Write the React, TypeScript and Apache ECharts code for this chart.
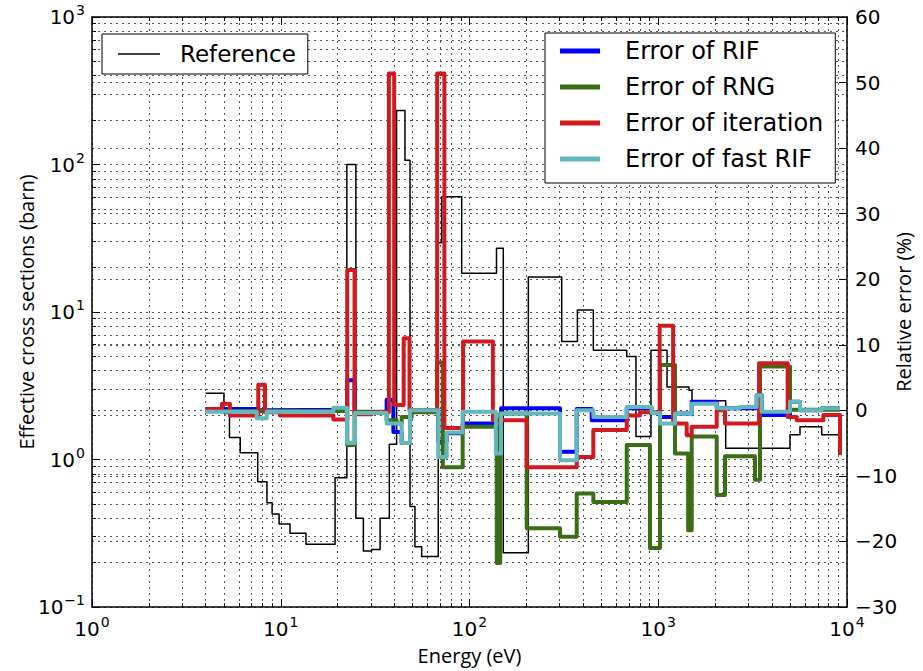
import React, { useEffect, useRef } from 'react';
import * as echarts from 'echarts';

// Energy group boundaries (eV) and values.
const refEnergy = [4.0, 5.0, 5.35, 6.1, 7.55, 8.45, 9.0, 9.8, 11.2, 13.6, 19.4, 22.4, 25.0, 27.4, 30.3, 33.6, 37.6, 41.1, 45.5, 48.4, 51.4, 55.8, 68.3, 71.2, 90.9, 139, 151, 205, 308, 373, 453, 681, 762, 915, 1113, 1455, 1510, 2277, 4989, 5636, 7345, 9180];
const refXS = [2.81, 2.05, 1.41, 1.11, 0.707, 0.509, 0.427, 0.366, 0.316, 0.266, 0.753, 100, 0.40, 0.24, 0.245, 0.40, 1.27, 232, 107, 0.48, 0.256, 0.22, 29.5, 60.5, 18.3, 27, 0.233, 17.3, 6.3, 10.3, 5.5, 5.0, 1.43, 5.5, 3.1, 2.95, 2.5, 1.19, 1.47, 1.67, 1.47, 1.47];

const rifEnergy = [4.0, 4.96, 7.46, 8.43, 22.5, 24.6, 36.4, 39.5, 43.7, 48.4, 68.3, 75.7, 92.0, 138, 147, 301.6, 369.8, 444, 681, 923, 1022, 1227, 1504, 2040, 3323, 3532, 4989, 5636, 7345, 9180];
const rifErr = [0.0, 0.2, 0.0, 0.1, 4.6, -0.3, 1.6, -3.3, -5.0, 0.0, -4.8, -3.5, -2.0, -3.5, 0.3, -6.3, 0.2, -1.5, 0.3, -0.4, -1.0, -0.5, 1.3, 0.3, 2.3, -0.7, 1.3, 0.0, 0.3, 0.3];

const rngEnergy = [4.0, 22.5, 24.6, 36.4, 41.1, 43.7, 49.4, 67.4, 72.2, 92.0, 139.5, 145.5, 201, 301.6, 369.8, 453, 681, 904, 1022, 1227, 1440, 1504, 2040, 2258, 3254, 3460, 4989, 9180];
const rngErr = [-0.1, -5.3, -0.2, -1.5, -2.0, -1.0, -0.3, 7.3, -8.7, -2.5, -23.3, -0.5, -18.0, -19.3, -12.7, -14.0, -5.3, -21.0, 6.9, -6.6, -18.3, -4.0, -12.9, -7.0, -10.6, 6.7, 0.1, 0.1];

const iterEnergy = [4.0, 4.88, 5.38, 7.6, 8.25, 9.9, 19.0, 22.5, 24.6, 30.3, 37.4, 39.9, 44.8, 48.1, 67.4, 73.6, 92.5, 133, 201, 370, 453, 681, 800, 1017, 1199, 1415, 1504, 2040, 2258, 3420, 4850, 5414, 7490, 9180];
const iterErr = [0.2, 1.0, -0.8, 3.9, -0.3, -0.8, -1.4, 21.4, -0.6, -0.3, 51.4, 0.8, 11.0, 0.0, 51.4, -2.7, 10.5, -1.5, -8.7, -7.1, -3.0, -0.8, -0.3, 12.9, -2.0, -3.8, -2.5, 0.0, -2.0, 7.2, -1.0, -1.5, -0.7, -6.8];

const fastEnergy = [4.0, 7.46, 8.43, 19.0, 22.4, 24.7, 36.4, 43.7, 48.4, 68.3, 75.7, 92.0, 138, 147, 301.6, 369.8, 453, 681, 923, 1022, 1227, 1504, 2040, 2711, 3323, 3532, 4989, 5636, 7345, 9180];
const fastErr = [-0.2, -1.2, -0.2, 0.4, -5.0, -0.4, -2.0, -5.0, 0.0, -7.1, -3.4, -0.2, -6.6, -0.5, -7.6, 0.0, -1.0, 0.5, -0.4, -2.0, -0.5, 1.0, 0.3, 0.5, 2.3, -0.2, 1.3, 0.0, 0.3, 0.3];

const errorNames = ['Error of RIF', 'Error of RNG', 'Error of iteration', 'Error of fast RIF'];
const errorColors = ['#0000ff', '#3a6e14', '#d11a1f', '#62b8bc'];

const pairs = (e: number[], v: number[]) => e.map((x, i) => [x, v[i]]);

const TICK_FONT = 'DejaVu Sans';
const TITLE_FONT = 'Open Sans';
const grid = { color: '#555', width: 1, type: [2, 4] as number[] };

const powLabel = (v: number) => {
  const e = Math.round(Math.log10(v));
  return `{b|10}{s|${e < 0 ? '\u2212' + -e : e}}`;
};
const rich = {
  b: { fontFamily: TICK_FONT, fontSize: 20, lineHeight: 20, color: '#000', verticalAlign: 'bottom' },
  s: { fontFamily: TICK_FONT, fontSize: 14, lineHeight: 14, color: '#000', verticalAlign: 'bottom', padding: [0, 0, 10, 1] },
};

export default function App() {
  const ref = useRef<HTMLDivElement>(null);
  useEffect(() => {
    const chart = echarts.init(ref.current!, null, { renderer: 'svg' });
    const stepLine = (name: string, e: number[], v: number[], color: string, width: number, yIdx: number) => ({
      name,
      type: 'line',
      xAxisIndex: 0,
      yAxisIndex: yIdx,
      data: pairs(e, v),
      step: 'end',
      symbol: 'none',
      silent: true,
      color,
      lineStyle: { color, width, join: 'round', cap: 'butt' },
    });
    const option: any = {
      animation: false,
      backgroundColor: '#fff',
      grid: { left: 92, right: 76, top: 17, bottom: 64, containLabel: false, outerBoundsMode: 'none' },
      xAxis: [
        {
          type: 'log', logBase: 10, min: 1, max: 10000, position: 'bottom', gridIndex: 0,
          name: 'Energy (eV)', nameLocation: 'middle', nameGap: 38, nameMoveOverlap: false,
          nameTextStyle: { fontFamily: TITLE_FONT, fontSize: 20, color: '#000' },
          axisLine: { show: true, onZero: false, lineStyle: { color: '#000', width: 1.5 } },
          axisTick: { show: true, inside: true, length: 8, lineStyle: { color: '#000' } },
          minorTick: { show: true, splitNumber: 9, length: 4, lineStyle: { color: '#000' } },
          splitLine: { show: true, lineStyle: grid },
          minorSplitLine: { show: true, lineStyle: grid },
          axisLabel: { formatter: powLabel, rich, margin: 12, showMinLabel: true, showMaxLabel: true },
        },
        {
          type: 'log', logBase: 10, min: 1, max: 10000, position: 'top', gridIndex: 0,
          axisLine: { show: true, onZero: false, lineStyle: { color: '#000', width: 1.5 } },
          axisTick: { show: true, inside: true, length: 8, lineStyle: { color: '#000' } },
          minorTick: { show: true, splitNumber: 9, length: 4, lineStyle: { color: '#000' } },
          splitLine: { show: false },
          axisLabel: { show: false },
        },
      ],
      yAxis: [
        {
          type: 'log', logBase: 10, min: 0.1, max: 1000, position: 'left',
          name: 'Effective cross sections (barn)', nameLocation: 'middle', nameRotate: 90, nameGap: 56,
          nameMoveOverlap: false,
          nameTextStyle: { fontFamily: TITLE_FONT, fontSize: 20, color: '#000' },
          axisLine: { show: true, onZero: false, lineStyle: { color: '#000', width: 1.5 } },
          axisTick: { show: true, inside: true, length: 8, lineStyle: { color: '#000' } },
          minorTick: { show: true, splitNumber: 9, length: 4, lineStyle: { color: '#000' } },
          splitLine: { show: true, lineStyle: grid },
          minorSplitLine: { show: true, lineStyle: grid },
          axisLabel: { formatter: powLabel, rich, margin: 7, showMinLabel: true, showMaxLabel: true },
        },
        {
          type: 'value', min: -30, max: 60, interval: 10, position: 'right',
          name: 'Relative error (%)', nameLocation: 'middle', nameRotate: 90, nameGap: 46,
          nameMoveOverlap: false,
          nameTextStyle: { fontFamily: TITLE_FONT, fontSize: 20, color: '#000' },
          axisLine: { show: true, onZero: false, lineStyle: { color: '#000', width: 1.5 } },
          axisTick: { show: true, inside: true, length: 8, lineStyle: { color: '#000' } },
          splitLine: { show: true, lineStyle: grid },
          axisLabel: {
            formatter: (v: number) => (v < 0 ? '\u2212' + -v : String(v)),
            fontFamily: TICK_FONT, fontSize: 20, lineHeight: 20, color: '#000', margin: 8,
          },
        },
      ],
      legend: [
        {
          data: [{ name: 'Reference', icon: 'rect' }],
          left: 102, top: 34, orient: 'vertical',
          itemWidth: 42, itemHeight: 1.5,
          padding: [6, 12, 6, 16],
          borderColor: '#000', borderWidth: 1, backgroundColor: '#fff', borderRadius: 0,
          textStyle: { fontFamily: TICK_FONT, fontSize: 23, color: '#000', lineHeight: 28, padding: [0, 0, 0, 15] },
          selectedMode: false,
        },
        {
          data: errorNames.map((n) => ({ name: n, icon: 'rect' })),
          left: 545, top: 33, orient: 'vertical',
          itemWidth: 40, itemHeight: 5, itemGap: 10,
          padding: [5, 12, 11, 15],
          borderColor: '#000', borderWidth: 1, backgroundColor: '#fff', borderRadius: 0,
          textStyle: { fontFamily: TICK_FONT, fontSize: 24, color: '#000', lineHeight: 26, padding: [0, 0, 0, 20] },
          selectedMode: false,
        },
      ],
      series: [
        stepLine('Reference', refEnergy, refXS, '#000000', 1.5, 0),
        stepLine(errorNames[0], rifEnergy, rifErr, errorColors[0], 4, 1),
        stepLine(errorNames[1], rngEnergy, rngErr, errorColors[1], 4, 1),
        stepLine(errorNames[2], iterEnergy, iterErr, errorColors[2], 4, 1),
        stepLine(errorNames[3], fastEnergy, fastErr, errorColors[3], 4, 1),
      ],
    };
    chart.setOption(option);
    return () => chart.dispose();
  }, []);
  return <div ref={ref} style={{ position: 'fixed', left: 0, top: 0, width: 923, height: 671 }} />;
}
